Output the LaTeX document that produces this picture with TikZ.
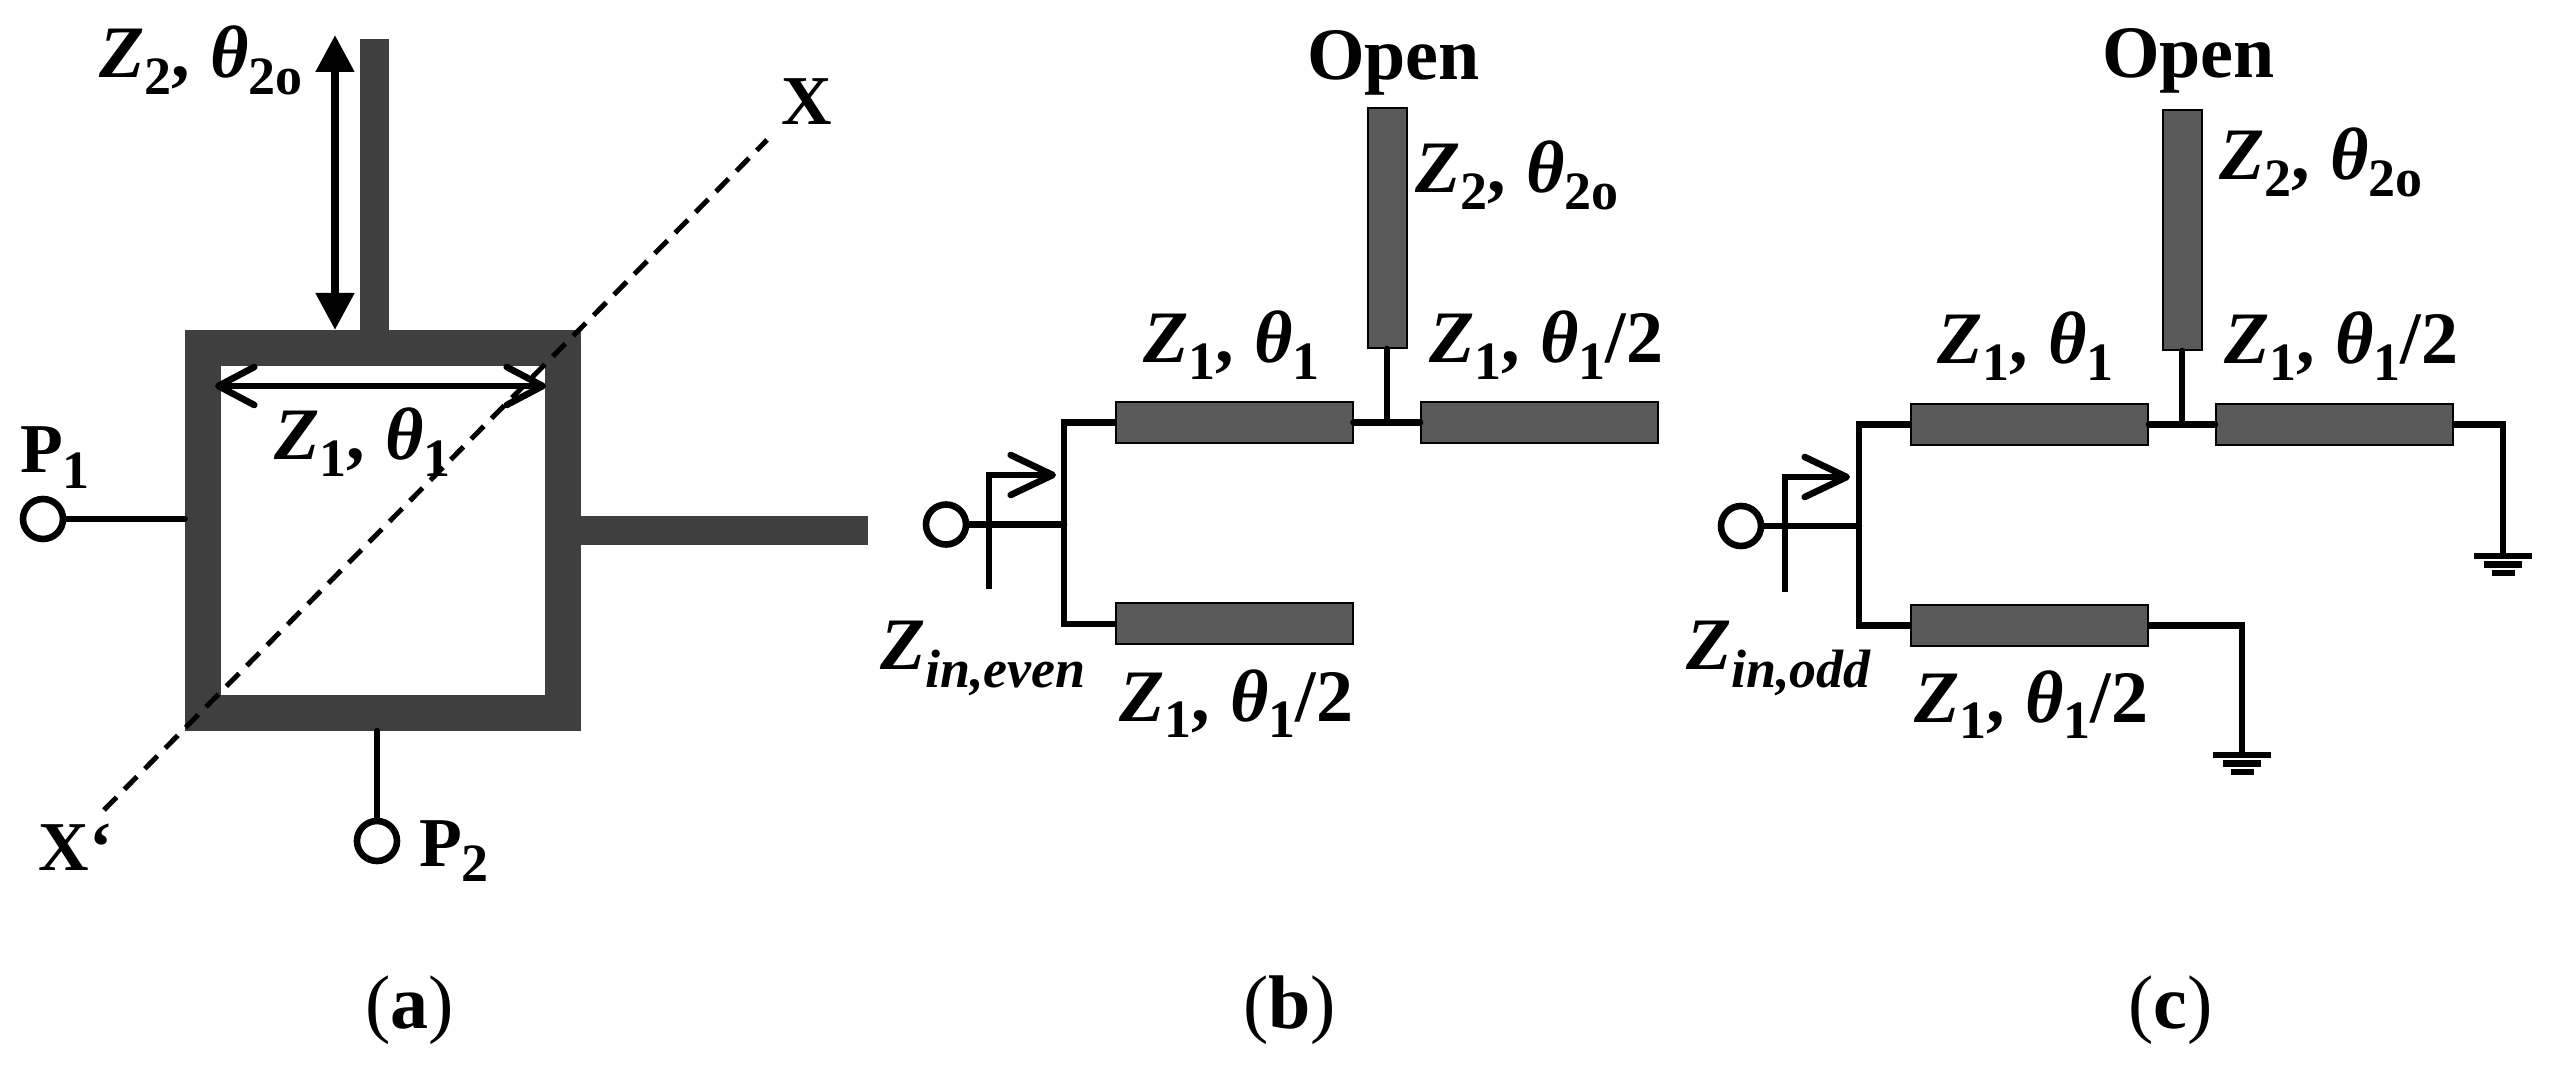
\documentclass[tikz,border=0pt]{standalone}
\usepackage{fontspec}
\setmainfont{Liberation Serif}
\usetikzlibrary{arrows.meta}
\definecolor{ringc}{HTML}{3F3F3F}
\definecolor{stripc}{HTML}{595959}
\newcommand{\dn}[1]{\raisebox{-0.22em}{\fontsize{27}{27}\selectfont\bfseries #1}}
\newcommand{\zsub}[1]{\textbf{\textit{Z}}\dn{#1}}
\newcommand{\tsub}[1]{\kern0.03em\textbf{\textit{θ}}\dn{#1}}
\newcommand{\zin}[1]{\textbf{\textit{Z}}\raisebox{-0.25em}{\fontsize{27}{27}\selectfont\bfseries\itshape #1}}
\tikzset{
  lab/.style={anchor=base west, inner sep=0pt, outer sep=0pt, font=\fontsize{37}{39}\selectfont},
  plab/.style={lab, font=\fontsize{35}{37}\selectfont},
  sublab/.style={lab, font=\fontsize{38}{40}\selectfont},
  solid line/.style={fill=ringc, inner sep=0pt, outer sep=0pt},
  strip/.style={draw=black, line width=1pt, fill=stripc, inner sep=0pt, minimum width=118.5pt, minimum height=20.5pt},
  stub/.style={strip, minimum width=19.5pt, minimum height=120pt},
  port/.style={circle, draw=black, line width=3.3pt, inner sep=0pt, minimum size=20pt},
  wire/.style={draw=black, line width=3.3pt, line cap=round},
  bus/.style={wire, line cap=butt, line join=miter},
  barb/.style={wire, line cap=butt, -{Straight Barb[length=21pt,width=20pt,round,line width=3.3pt]}},
  gnd/.pic={
    \draw[line width=3.2pt] (-29,0) -- (29,0);
    \draw[line width=3.2pt] (-19,8.5) -- (19,8.5);
    \draw[line width=3.2pt] (-11.5,17) -- (11.5,17);
  }
}
\begin{document}
\begin{tikzpicture}[x=0.5pt,y=-0.5pt]
  \useasboundingbox (0,0) rectangle (2552,1068);

  % (a) ring with its stubs
  \node[solid line, minimum width=14.5pt, minimum height=145.5pt] (topstub) at (374.5,185) {};
  \node[solid line, minimum width=144pt, minimum height=14.5pt] (rightstub) at (724,530.5) {};
  \node[draw=ringc, line width=18pt, inner sep=0pt, outer sep=9pt, minimum width=180pt, minimum height=182.5pt] (ring) at (382.5,530.5) {};

  \node[port] (p1) at (43,519) {};
  \node[port] (p2) at (377,841) {};
  \draw[wire] (p1) -- (ring.west |- p1);
  \draw[wire] (p2) -- (p2 |- ring.south);

  \coordinate (vt) at (335,35);
  \coordinate (vb) at (335,330);
  \draw[black, line width=4pt, {Triangle[width=18.5pt,length=18.5pt]}-{Triangle[width=18.5pt,length=18.5pt]}] (vt) -- (vb);
  \coordinate (hl) at (215,386);
  \coordinate (hr) at (546,386);
  \draw[wire, line cap=butt, {Straight Barb[length=18pt,width=19pt,round,line width=3.3pt]}-{Straight Barb[length=18pt,width=19pt,round,line width=3.3pt]}] (hl) -- (hr);

  \coordinate (xa) at (104,810);
  \coordinate (xb) at (767,140);
  \draw[black, line width=2.5pt, dash pattern=on 9pt off 5.5pt] (xa) -- (xb);

  \node[lab] (a1) at (99,78) {\zsub{2}\textbf{, }\tsub{2o}};
  \node[lab] (a2) at (274,460) {\zsub{1}\textbf{, }\tsub{1}};
  \node[plab] (a3) at (20,473) {\textbf{P}\dn{1}};
  \node[plab] (a4) at (419,866) {\textbf{P}\dn{2}};
  \node[plab] (a5) at (781,125) {\textbf{X}};
  \node[plab] (a6) at (39,870) {\textbf{X\symbol{96}}};
  \node[sublab] (a7) at (365,1028) {(\textbf{a})};

  % (b) even mode
  \node[stub] (sb) at (1387,228) {};
  \node[strip] (r1b) at (1234,422.5) {};
  \node[strip] (r2b) at (1539.5,422.5) {};
  \node[strip] (r3b) at (1234,624) {};
  \node[port] (inb) at (946,524.5) {};
  \coordinate (bt) at (1064,422.5);
  \coordinate (bb) at (1064,624);
  \coordinate (bm) at (1064,524.5);
  \draw[wire] (r1b.east) -- (r2b.west);
  \draw[wire] (sb.south) -- (sb.south |- r1b);
  \draw[bus] (r1b.west) -- (bt) -- (bb) -- (r3b.west);
  \draw[wire] (inb) -- (bm);
  \coordinate (zb1) at (989,589);
  \coordinate (zb2) at (989,475);
  \coordinate (zb3) at (1056,475);
  \draw[barb] (zb1) -- (zb2) -- (zb3);

  \node[lab] (b1) at (1307,80) {\textbf{Open}};
  \node[lab] (b2) at (1415,193) {\zsub{2}\textbf{, }\tsub{2o}};
  \node[lab] (b3) at (1143,363) {\zsub{1}\textbf{, }\tsub{1}};
  \node[lab] (b4) at (1429,363) {\zsub{1}\textbf{, }\tsub{1}\textbf{/2}};
  \node[lab] (b5) at (880,669) {\zin{in,even}};
  \node[lab] (b6) at (1119,721) {\zsub{1}\textbf{, }\tsub{1}\textbf{/2}};
  \node[sublab] (b7) at (1243,1028) {(\textbf{b})};

  % (c) odd mode
  \node[stub] (sc) at (2182,230) {};
  \node[strip] (r1c) at (2029.5,424.5) {};
  \node[strip] (r2c) at (2334.5,424.5) {};
  \node[strip] (r3c) at (2029.5,625.5) {};
  \node[port] (inc) at (1741,526) {};
  \coordinate (ct) at (1859,424.5);
  \coordinate (cb) at (1859,625.5);
  \coordinate (cm) at (1859,526);
  \coordinate (g1) at (2503,556);
  \coordinate (g2) at (2242,755);
  \draw[wire] (r1c.east) -- (r2c.west);
  \draw[wire] (sc.south) -- (sc.south |- r1c);
  \draw[bus] (r1c.west) -- (ct) -- (cb) -- (r3c.west);
  \draw[wire] (inc) -- (cm);
  \draw[bus] (r2c.east) -- (r2c.east -| g1) -- (g1);
  \draw[bus] (r3c.east) -- (r3c.east -| g2) -- (g2);
  \pic at (g1) {gnd};
  \pic at (g2) {gnd};
  \coordinate (zc1) at (1785,592);
  \coordinate (zc2) at (1785,477);
  \coordinate (zc3) at (1850,477);
  \draw[barb] (zc1) -- (zc2) -- (zc3);

  \node[lab] (c1) at (2102,78) {\textbf{Open}};
  \node[lab] (c2) at (2219,180) {\zsub{2}\textbf{, }\tsub{2o}};
  \node[lab] (c3) at (1937,364) {\zsub{1}\textbf{, }\tsub{1}};
  \node[lab] (c4) at (2224,364) {\zsub{1}\textbf{, }\tsub{1}\textbf{/2}};
  \node[lab] (c5) at (1686,669) {\zin{in,odd}};
  \node[lab] (c6) at (1914,722) {\zsub{1}\textbf{, }\tsub{1}\textbf{/2}};
  \node[sublab] (c7) at (2128,1028) {(\textbf{c})};
\end{tikzpicture}
\end{document}
